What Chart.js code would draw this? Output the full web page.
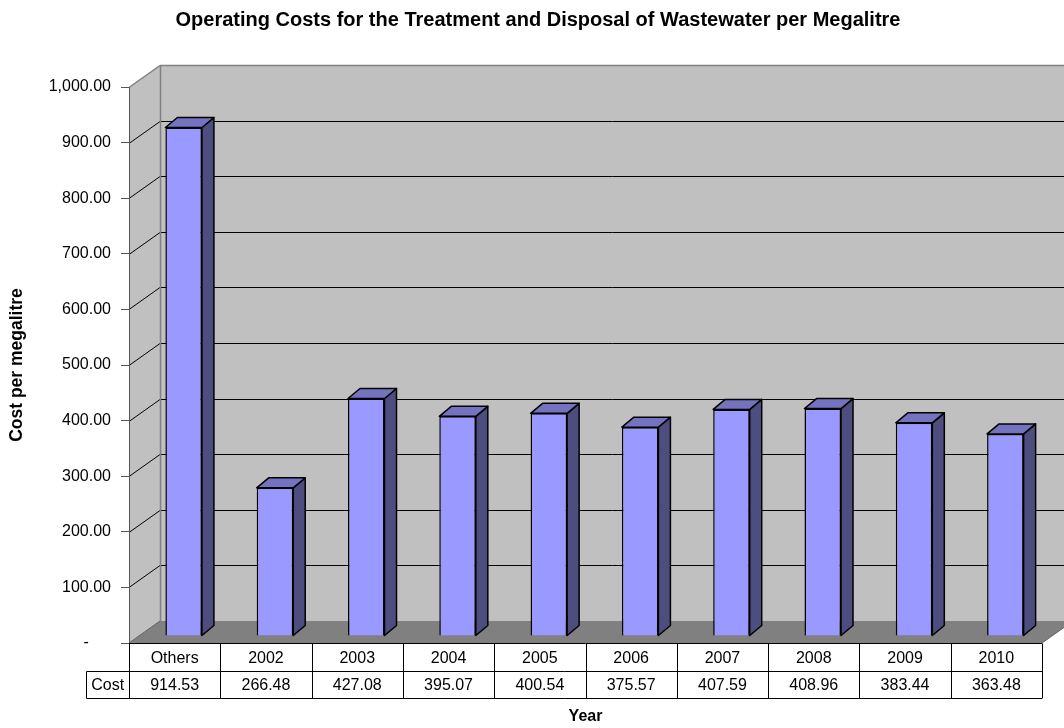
<!DOCTYPE html>
<html>
<head>
<meta charset="utf-8">
<script src="https://cdn.jsdelivr.net/npm/chart.js@4.4.0/dist/chart.umd.min.js"></script>
<style>
  html, body { margin: 0; padding: 0; background: #fff; }
  #wrap { width: 1064px; height: 728px; }
</style>
</head>
<body>
<div id="wrap"><canvas id="chart"></canvas></div>
<script>
// data
const categories = ['Others', '2002', '2003', '2004', '2005', '2006', '2007', '2008', '2009', '2010'];
const costs = [914.53, 266.48, 427.08, 395.07, 400.54, 375.57, 407.59, 408.96, 383.44, 363.48];
const rowLabel = 'Cost';
const chartTitle = 'Operating Costs for the Treatment and Disposal of Wastewater per Megalitre';
const xTitle = 'Year';
const yTitle = 'Cost per megalitre';

const FONT = "'Liberation Sans', Arial, sans-serif";

// 3D look: wall depth, bar shift into the box, bar thickness
const DEPTH = { x: 31, y: -22 };
const BAR_SHIFT = { x: 9, y: -7 };
const BAR_SIDE = { x: 12, y: -10 };

const fmt = v => v.toLocaleString('en-US', { minimumFractionDigits: 2, maximumFractionDigits: 2 });

function poly(ctx, pts, fill, stroke, lw) {
  ctx.beginPath();
  ctx.moveTo(pts[0][0], pts[0][1]);
  for (let i = 1; i < pts.length; i++) ctx.lineTo(pts[i][0], pts[i][1]);
  ctx.closePath();
  if (fill) { ctx.fillStyle = fill; ctx.fill(); }
  if (stroke) { ctx.strokeStyle = stroke; ctx.lineWidth = lw || 1; ctx.stroke(); }
}

function line(ctx, x1, y1, x2, y2, color, lw) {
  ctx.beginPath();
  ctx.moveTo(x1, y1);
  ctx.lineTo(x2, y2);
  ctx.strokeStyle = color;
  ctx.lineWidth = lw || 1;
  ctx.stroke();
}

const scene3d = {
  id: 'scene3d',
  // walls, floor and gridlines behind everything
  beforeDraw(chart) {
    const { ctx, chartArea: a, scales: { y } } = chart;
    const dx = DEPTH.x, dy = DEPTH.y;
    ctx.save();
    // back wall
    poly(ctx, [[a.left + dx, a.top + dy], [a.right + dx, a.top + dy], [a.right + dx, a.bottom + dy], [a.left + dx, a.bottom + dy]], '#c0c0c0');
    // left wall
    poly(ctx, [[a.left, a.top], [a.left + dx, a.top + dy], [a.left + dx, a.bottom + dy], [a.left, a.bottom]], '#c0c0c0');
    // floor
    poly(ctx, [[a.left, a.bottom], [a.left + dx, a.bottom + dy], [a.right + dx, a.bottom + dy], [a.right, a.bottom]], '#808080');

    // gridlines
    y.ticks.forEach(t => {
      if (t.value === 0 || t.value === 1000) return;
      const py = Math.round(y.getPixelForValue(t.value)) + 0.5;
      line(ctx, a.left, py, a.left + dx, py + dy, '#000', 1);
      line(ctx, a.left + dx, py + dy, a.right + dx, py + dy, '#000', 1);
    });

    // wall edges
    const top = Math.round(a.top) + 0.5;
    line(ctx, a.left, top, a.left + dx, top + dy, '#808080', 1.5);
    line(ctx, a.left + dx, top + dy, a.right + dx, top + dy, '#808080', 1.5);
    line(ctx, a.left + dx + 0.5, top + dy, a.left + dx + 0.5, a.bottom + dy, '#808080', 1.5);
    line(ctx, a.left, a.bottom, a.left + dx, a.bottom + dy, '#606060', 1);
    line(ctx, a.right, a.bottom, a.right + dx, a.bottom + dy, '#606060', 1);
    ctx.restore();
  },
  // push the front faces back into the box
  beforeDatasetsDraw(chart) {
    chart.ctx.save();
    chart.ctx.translate(BAR_SHIFT.x, BAR_SHIFT.y);
  },
  afterDatasetsDraw(chart) {
    const ctx = chart.ctx;
    ctx.restore();
    const meta = chart.getDatasetMeta(0);
    ctx.save();
    ctx.lineJoin = 'round';
    meta.data.forEach(bar => {
      const p = bar.getProps(['x', 'y', 'base', 'width'], true);
      const l = p.x - p.width / 2 + BAR_SHIFT.x;
      const r = p.x + p.width / 2 + BAR_SHIFT.x;
      const t = p.y + BAR_SHIFT.y;
      const b = p.base + BAR_SHIFT.y;
      const sx = BAR_SIDE.x, sy = BAR_SIDE.y;
      // side face
      poly(ctx, [[r, t], [r + sx, t + sy], [r + sx, b + sy], [r, b]], '#4d4d80', '#000', 1.5);
      // top face
      poly(ctx, [[l, t], [l + sx, t + sy], [r + sx, t + sy], [r, t]], '#7373bf', '#000', 1.5);
    });
    ctx.restore();
  },
  // data table, titles
  afterDraw(chart) {
    const { ctx, chartArea: a, scales: { x } } = chart;
    const n = categories.length;
    const colW = (a.right - a.left) / n;
    const rowH = 28;
    const r0 = Math.round(a.bottom) + 0.5;
    const r1 = r0 + rowH;
    const r2 = r1 + rowH - 1;
    const labelLeft = 86.5;
    ctx.save();
    // horizontal rules
    line(ctx, a.left, r0, a.right, r0, '#000', 1);
    line(ctx, labelLeft, r1, a.right, r1, '#000', 1);
    line(ctx, labelLeft, r2, a.right, r2, '#000', 1);
    // vertical rules
    for (let i = 0; i <= n; i++) {
      const px = Math.round(a.left + i * colW) + 0.5;
      line(ctx, px, r0, px, r2, '#000', 1);
    }
    line(ctx, labelLeft, r1, labelLeft, r2, '#000', 1);

    ctx.fillStyle = '#000';
    ctx.font = '16px ' + FONT;
    ctx.textAlign = 'center';
    ctx.textBaseline = 'middle';
    categories.forEach((c, i) => {
      const cx = x.getPixelForValue(i);
      ctx.fillText(c, cx, (r0 + r1) / 2 + 1);
      ctx.fillText(fmt(costs[i]), cx, (r1 + r2) / 2 + 1);
    });
    ctx.fillText(rowLabel, (labelLeft + a.left) / 2, (r1 + r2) / 2 + 1);

    // x axis title
    ctx.font = 'bold 16px ' + FONT;
    ctx.fillText(xTitle, (a.left + a.right) / 2, 717);

    // chart title
    ctx.font = 'bold 20px ' + FONT;
    ctx.fillText(chartTitle, 538, 20);
    ctx.restore();
  }
};

Chart.defaults.font.family = FONT;
Chart.defaults.color = '#000';

new Chart(document.getElementById('chart'), {
  type: 'bar',
  data: {
    labels: categories,
    datasets: [{
      label: rowLabel,
      data: costs,
      backgroundColor: '#9999ff',
      borderColor: '#000',
      borderWidth: 1.5,
      barPercentage: 0.4,
      categoryPercentage: 1
    }]
  },
  options: {
    responsive: true,
    maintainAspectRatio: false,
    animation: false,
    devicePixelRatio: 1,
    layout: { padding: { top: 87, right: 22, bottom: 85, left: 0 } },
    plugins: {
      legend: { display: false },
      tooltip: { enabled: false },
      title: { display: false }
    },
    scales: {
      x: { display: false },
      y: {
        min: 0,
        max: 1000,
        ticks: {
          stepSize: 100,
          padding: 10,
          font: { size: 16 },
          callback: v => v === 0 ? '-     ' : fmt(v)
        },
        grid: { drawOnChartArea: false, drawTicks: true, tickLength: 8, color: '#555' },
        border: { display: true, color: '#555' },
        title: {
          display: true,
          text: yTitle,
          font: { size: 17.5, weight: 'bold' },
          padding: { top: 7, bottom: 0 }
        },
        afterFit(scale) { scale.width = 129; }
      }
    }
  },
  plugins: [scene3d]
});
</script>
</body>
</html>
